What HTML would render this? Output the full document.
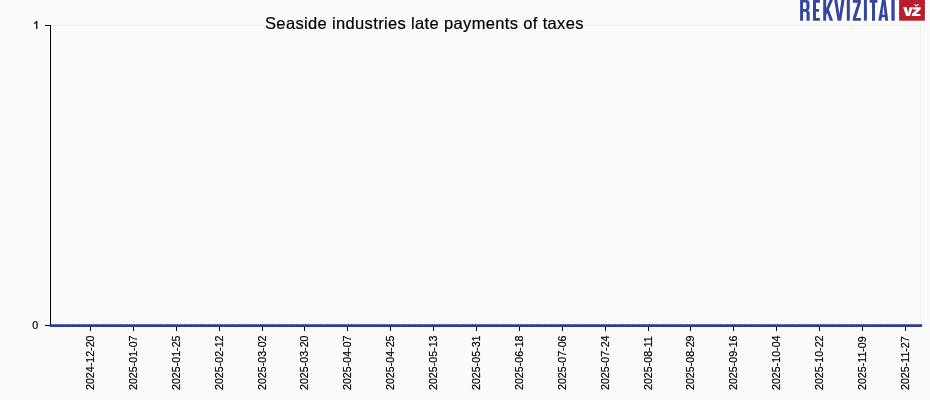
<!DOCTYPE html>
<html><head><meta charset="utf-8"><title>Chart</title>
<style>
html,body{margin:0;padding:0;background:#fafafa;}
svg{display:block;will-change:transform;font-family:"Liberation Sans",sans-serif;}
</style></head>
<body>
<svg width="930" height="400" viewBox="0 0 930 400">
<rect x="0" y="0" width="930" height="400" fill="#fafafa"/>
<rect x="50.5" y="25.5" width="870" height="300" fill="#fafafa" stroke="#f0f0f0" stroke-width="1"/>
<g stroke="#000" stroke-width="1" shape-rendering="crispEdges">
<line x1="50.5" y1="25" x2="50.5" y2="326"/>
<line x1="45" y1="25.5" x2="50" y2="25.5"/>
<line x1="45" y1="325.5" x2="50" y2="325.5"/>
<line x1="90.5" y1="325" x2="90.5" y2="331"/><line x1="133.5" y1="325" x2="133.5" y2="331"/><line x1="176.5" y1="325" x2="176.5" y2="331"/><line x1="219.5" y1="325" x2="219.5" y2="331"/><line x1="262.5" y1="325" x2="262.5" y2="331"/><line x1="304.5" y1="325" x2="304.5" y2="331"/><line x1="347.5" y1="325" x2="347.5" y2="331"/><line x1="390.5" y1="325" x2="390.5" y2="331"/><line x1="433.5" y1="325" x2="433.5" y2="331"/><line x1="476.5" y1="325" x2="476.5" y2="331"/><line x1="519.5" y1="325" x2="519.5" y2="331"/><line x1="562.5" y1="325" x2="562.5" y2="331"/><line x1="605.5" y1="325" x2="605.5" y2="331"/><line x1="648.5" y1="325" x2="648.5" y2="331"/><line x1="690.5" y1="325" x2="690.5" y2="331"/><line x1="733.5" y1="325" x2="733.5" y2="331"/><line x1="776.5" y1="325" x2="776.5" y2="331"/><line x1="819.5" y1="325" x2="819.5" y2="331"/><line x1="862.5" y1="325" x2="862.5" y2="331"/><line x1="905.5" y1="325" x2="905.5" y2="331"/>
</g>
<line x1="50.5" y1="326" x2="921.5" y2="326" stroke="#2b3c93" stroke-width="2"/>
<line x1="51" y1="325.5" x2="921" y2="325.5" stroke="#2b3c93" stroke-width="3.2" stroke-linecap="round" stroke-dasharray="0 2.383"/>
<g font-size="10.67px" fill="#000" stroke="#000" stroke-width="0.2">
<path d="M37.3,21 V28.9 H36.2 V22.7 Q35.4,23.5 34.1,23.9 V22.9 Q35.7,22.3 36.5,21 Z" stroke-width="0.15"/>
<text x="38.2" y="329.4" text-anchor="end">0</text>
<text transform="translate(93.6,390) rotate(-90)">2024-12-20</text><text transform="translate(136.6,390) rotate(-90)">2025-01-07</text><text transform="translate(179.6,390) rotate(-90)">2025-01-25</text><text transform="translate(222.6,390) rotate(-90)">2025-02-12</text><text transform="translate(265.6,390) rotate(-90)">2025-03-02</text><text transform="translate(307.6,390) rotate(-90)">2025-03-20</text><text transform="translate(350.6,390) rotate(-90)">2025-04-07</text><text transform="translate(393.6,390) rotate(-90)">2025-04-25</text><text transform="translate(436.6,390) rotate(-90)">2025-05-13</text><text transform="translate(479.6,390) rotate(-90)">2025-05-31</text><text transform="translate(522.6,390) rotate(-90)">2025-06-18</text><text transform="translate(565.6,390) rotate(-90)">2025-07-06</text><text transform="translate(608.6,390) rotate(-90)">2025-07-24</text><text transform="translate(651.6,390) rotate(-90)">2025-08-11</text><text transform="translate(693.6,390) rotate(-90)">2025-08-29</text><text transform="translate(736.6,390) rotate(-90)">2025-09-16</text><text transform="translate(779.6,390) rotate(-90)">2025-10-04</text><text transform="translate(822.6,390) rotate(-90)">2025-10-22</text><text transform="translate(865.6,390) rotate(-90)">2025-11-09</text><text transform="translate(908.6,390) rotate(-90)">2025-11-27</text>
</g>
<text x="265" y="29.2" font-size="16.5px" letter-spacing="0.35" fill="#000" stroke="#000" stroke-width="0.2">Seaside industries late payments of taxes</text>
<rect x="799" y="0" width="127" height="22.3" fill="#fff"/>
<g fill="#3446a0" fill-rule="evenodd">
<path d="M800.1,0 L806.6,0 Q809.5,0 809.5,3 L809.5,8 Q809.5,10 808,10.4 Q809.7,10.9 809.7,13 L809.7,20.7 L806.5,20.7 L806.5,13.2 Q806.5,11.7 805.3,11.7 L803.1,11.7 L803.1,20.7 L800.1,20.7 Z M803.1,2.5 L805.3,2.5 Q806.4,2.5 806.4,3.7 L806.4,7.8 Q806.4,9 805.3,9 L803.1,9 Z"/>
<path d="M813,0 H819.9 V2.7 H816 V9 H819 V11.7 H816 V18 H819.9 V20.7 H813 Z"/>
<path d="M823.2,0 H826.2 V8.5 L829.6,0 H832.9 L828.9,9.3 L833.1,20.7 H829.8 L827.2,13 L826.2,15 V20.7 H823.2 Z"/>
<path d="M834.2,0 H837.3 L839.4,14.5 L841.4,0 H844.5 L841.2,20.7 H837.6 Z"/>
<rect x="846.8" y="0" width="3" height="20.7"/>
<path d="M852.8,0 H860.9 V2.6 L856,18 H860.9 V20.7 H852.8 V18.1 L857.7,2.7 H852.8 Z"/>
<rect x="863.9" y="0" width="3" height="20.7"/>
<path d="M869.6,0 H877.4 V2.7 H875 V20.7 H872 V2.7 H869.6 Z"/>
<path d="M878.3,20.7 L882,0 H885.6 L888.3,20.7 H885.2 L884.8,17.2 H882.0 L881.4,20.7 Z M882.4,14.7 H884.5 L883.6,5 Z"/>
<rect x="891.4" y="0" width="3.3" height="20.7"/>
</g>
<rect x="899.1" y="0" width="25.8" height="20.7" fill="#b81f2d"/>
<g fill="#fff">
<path d="M903.2,7.2 H906.7 L908.2,13 L909.6,7.2 H912.6 L910.0,16.1 H906.1 Z"/>
<path d="M912.6,7.2 H920.6 V9.2 L915.9,13.9 H920.4 V16.1 H911.9 V14.1 L916.7,9.4 H912.6 Z"/>
<path d="M914.0,3.9 L915.2,3.9 L916.5,5.2 L917.9,3.9 L919.1,3.9 L917.2,6.3 H915.8 Z"/>
</g>
</svg>
</body></html>
